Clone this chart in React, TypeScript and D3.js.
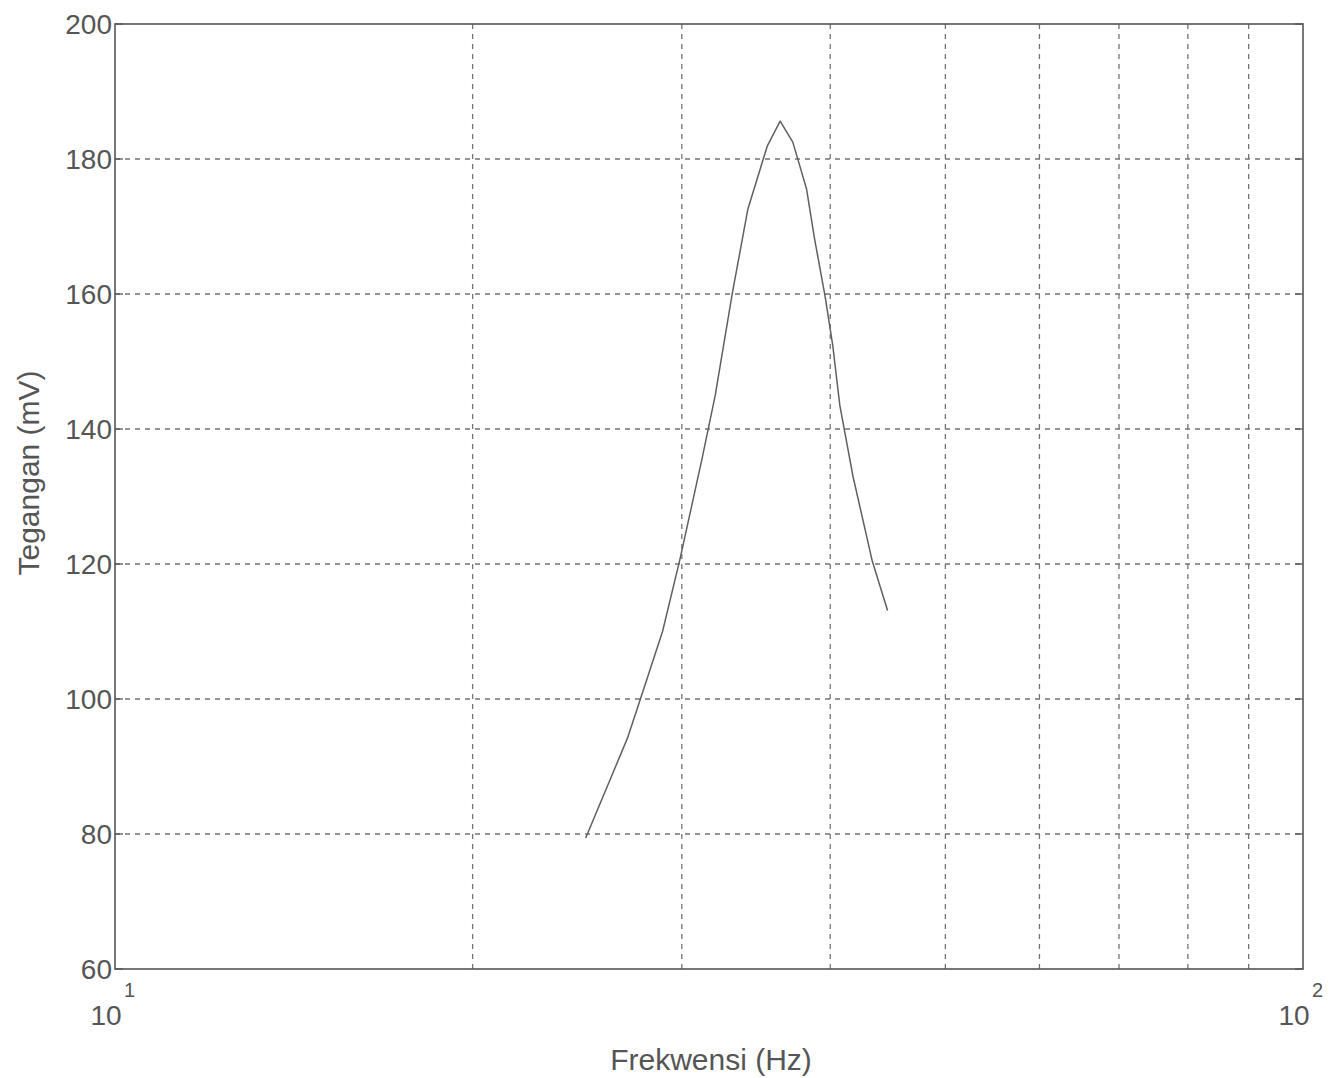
import React from "react";
import * as d3 from "d3";

const freqHz = [24.9, 27.0, 27.7, 28.9, 29.9, 31.2, 32.0, 33.1, 34.1, 35.4, 36.3, 37.2, 38.2, 38.8, 39.6, 40.2, 40.75, 41.8, 43.4, 44.7];
const voltageMv = [79.4, 94.2, 100.1, 110.0, 120.8, 135.6, 144.9, 160.3, 172.6, 181.9, 185.6, 182.5, 175.6, 168.2, 159.7, 152.3, 143.5, 133.0, 120.4, 113.1];
const yTicks = [60, 80, 100, 120, 140, 160, 180, 200];
const xMajor = [10, 100];
const xMajorExp = ["1", "2"];
const xGrid = [20, 30, 40, 50, 60, 70, 80, 90];
const xLabel = "Frekwensi (Hz)";
const yLabel = "Tegangan (mV)";

export default function App() {
  const W = 1338, H = 1078;
  const left = 115, right = 1303, top = 24, bottom = 969;
  const x = d3.scaleLog().domain([10, 100]).range([left, right]);
  const y = d3.scaleLinear().domain([60, 200]).range([bottom, top]);
  const line = d3.line<number>().x((_, i) => x(freqHz[i])).y((d) => y(d));
  const font = "'Liberation Sans', Arial, Helvetica, sans-serif";
  const textColor = "#555";
  const gridColor = "#737373";
  return (
    <svg width={W} height={H} style={{ position: "absolute", left: 0, top: 0, background: "#fff" }} fontFamily={font}>
      <rect x={0} y={0} width={W} height={H} fill="#fff" />
      {yTicks.slice(1, -1).map((t) => (
        <line key={"gy" + t} x1={left} x2={right} y1={y(t)} y2={y(t)} stroke={gridColor} strokeWidth={1.3} strokeDasharray="5,5" />
      ))}
      {xGrid.map((t) => (
        <line key={"gx" + t} x1={x(t)} x2={x(t)} y1={top} y2={bottom} stroke={gridColor} strokeWidth={1.3} strokeDasharray="5,5" />
      ))}
      <rect x={left} y={top} width={right - left} height={bottom - top} fill="none" stroke="#555" strokeWidth={1.6} />
      {yTicks.map((t) => (
        <g key={"ty" + t}>
          <line x1={left} x2={left + 8} y1={y(t)} y2={y(t)} stroke="#555" strokeWidth={1.3} />
          <line x1={right} x2={right - 8} y1={y(t)} y2={y(t)} stroke="#555" strokeWidth={1.3} />
          <text x={left - 3} y={y(t)} dy="0.36em" textAnchor="end" fontSize={28} fill={textColor}>{t}</text>
        </g>
      ))}
      {xMajor.map((t, i) => (
        <g key={"tx" + t}>
          <text x={x(t) - 9} y={bottom + 56} textAnchor="middle" fontSize={28} fill={textColor}>10</text>
          <text x={x(t) + 9} y={bottom + 28} textAnchor="start" fontSize={20} fill={textColor}>{xMajorExp[i]}</text>
        </g>
      ))}
      <path d={line(voltageMv) || ""} fill="none" stroke="#606060" strokeWidth={1.5} strokeLinejoin="round" />
      <text x={(left + right) / 2 + 2} y={1070} textAnchor="middle" fontSize={30} fill={textColor}>{xLabel}</text>
      <text transform={`translate(39, 473) rotate(-90)`} textAnchor="middle" fontSize={30} fill={textColor}>{yLabel}</text>
    </svg>
  );
}
